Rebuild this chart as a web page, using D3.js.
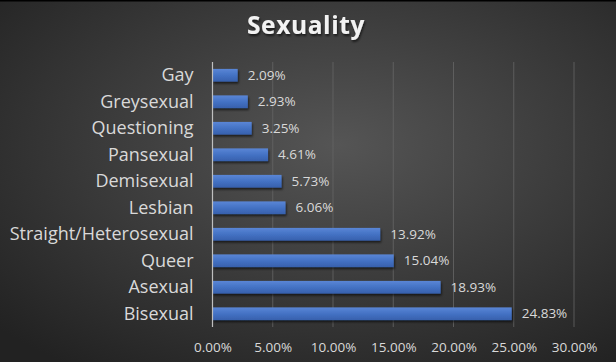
<!DOCTYPE html>
<html>
<head>
<meta charset="utf-8">
<script src="https://cdn.jsdelivr.net/npm/d3@7"></script>
<style>
  html, body { margin: 0; padding: 0; background: #1a1a1a; }
  svg { display: block; }
</style>
</head>
<body>
<svg id="chart" width="616" height="362"></svg>
<script>
'use strict';

const CATEGORIES = ['Gay', 'Greysexual', 'Questioning', 'Pansexual', 'Demisexual',
    'Lesbian', 'Straight/Heterosexual', 'Queer', 'Asexual', 'Bisexual'];
const VALUES = [2.09, 2.93, 3.25, 4.61, 5.73, 6.06, 13.92, 15.04, 18.93, 24.83];
const TICKS = [0, 5, 10, 15, 20, 25, 30];
const TITLE = 'Sexuality';

window.addEventListener('DOMContentLoaded', () => {
    const W = 616, H = 362;
    const M = { top: 62, left: 212.5, right: 42, bottom: 35 };
    const FONT = '"Open Sans", "Noto Sans", sans-serif';

    const svg = d3.select('#chart');
    const defs = svg.append('defs');

    // background radial gradient
    const bg = defs.append('radialGradient').attr('id', 'bg')
        .attr('cx', '55%').attr('cy', '40%').attr('r', '75%');
    bg.append('stop').attr('offset', '0%').attr('stop-color', '#555555');
    bg.append('stop').attr('offset', '100%').attr('stop-color', '#222222');

    // bar gradient
    const bar = defs.append('linearGradient').attr('id', 'bar')
        .attr('x1', 0).attr('y1', 0).attr('x2', 0).attr('y2', 1);
    bar.append('stop').attr('offset', '0%').attr('stop-color', '#5a86d6');
    bar.append('stop').attr('offset', '50%').attr('stop-color', '#4472c4');
    bar.append('stop').attr('offset', '100%').attr('stop-color', '#3760ad');

    const shadow = defs.append('filter').attr('id', 'shadow')
        .attr('x', '-10%').attr('y', '-30%').attr('width', '130%').attr('height', '180%');
    shadow.append('feDropShadow').attr('dx', 1).attr('dy', 2)
        .attr('stdDeviation', 1.2).attr('flood-color', '#000').attr('flood-opacity', 0.6);

    svg.append('rect').attr('width', W).attr('height', H).attr('fill', 'url(#bg)');
    svg.append('rect').attr('width', W).attr('height', 1.5).attr('fill', '#000');

    const x = d3.scaleLinear().domain([0, 30]).range([M.left, W - M.right]);
    const y = d3.scaleBand().domain(CATEGORIES).range([M.top, H - M.bottom])
        .paddingInner(0.52).paddingOuter(0.26);

    // gridlines
    svg.append('g')
        .selectAll('line').data(TICKS.slice(1)).join('line')
        .attr('x1', d => x(d)).attr('x2', d => x(d))
        .attr('y1', M.top).attr('y2', H - M.bottom)
        .attr('stroke', '#666666').attr('stroke-width', 0.8);

    // bars
    svg.append('g')
        .selectAll('rect').data(VALUES).join('rect')
        .attr('x', x(0))
        .attr('y', (d, i) => y(CATEGORIES[i]))
        .attr('width', d => x(d) - x(0))
        .attr('height', y.bandwidth())
        .attr('fill', 'url(#bar)')
        .attr('filter', 'url(#shadow)');

    // category axis line
    svg.append('line')
        .attr('x1', x(0)).attr('x2', x(0))
        .attr('y1', M.top).attr('y2', H - M.bottom)
        .attr('stroke', '#bfbfbf').attr('stroke-width', 1.2);

    // category labels
    const yAxis = d3.axisLeft(y).tickSize(0).tickPadding(19);
    const gy = svg.append('g').attr('transform', `translate(${x(0)},0)`).call(yAxis);
    gy.select('.domain').remove();
    gy.selectAll('text')
        .attr('fill', '#d9d9d9')
        .style('font-family', FONT)
        .style('font-size', '18px');

    // value axis labels
    const xAxis = d3.axisBottom(x).tickValues(TICKS).tickSize(0).tickPadding(15)
        .tickFormat(d => d.toFixed(2) + '%');
    const gx = svg.append('g').attr('transform', `translate(0,${H - M.bottom})`).call(xAxis);
    gx.select('.domain').remove();
    gx.selectAll('text')
        .attr('fill', '#d9d9d9')
        .style('font-family', FONT)
        .style('font-size', '13.5px');

    // data labels
    svg.append('g')
        .selectAll('text').data(VALUES).join('text')
        .attr('x', d => x(d) + 10)
        .attr('y', (d, i) => y(CATEGORIES[i]) + y.bandwidth() / 2)
        .attr('dy', '0.35em')
        .attr('fill', '#d9d9d9')
        .style('font-family', FONT)
        .style('font-size', '13.5px')
        .text(d => d.toFixed(2) + '%');

    // title
    svg.append('text')
        .attr('x', W / 2 - 2).attr('y', 34)
        .attr('text-anchor', 'middle')
        .attr('fill', '#f2f2f2')
        .attr('filter', 'url(#shadow)')
        .style('font-family', FONT)
        .style('font-weight', 'bold')
        .style('font-size', '24.5px')
        .style('letter-spacing', '0.6px')
        .text(TITLE);
});
</script>
</body>
</html>
